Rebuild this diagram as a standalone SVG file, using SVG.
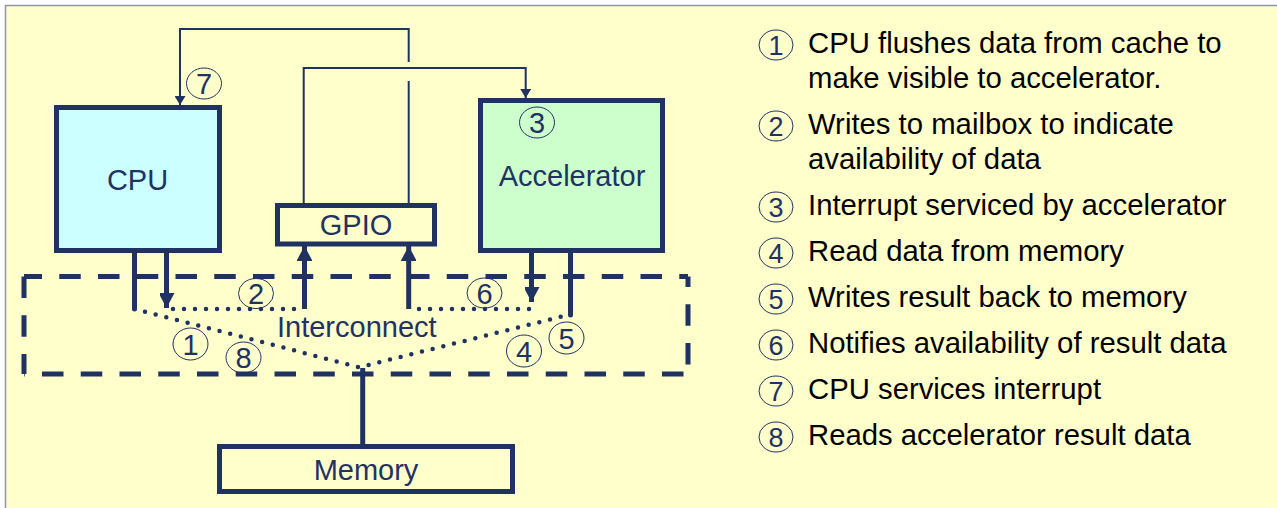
<svg xmlns="http://www.w3.org/2000/svg" width="1277" height="508" viewBox="0 0 1277 508">
  <defs>
    <style>
      .box { stroke: #1F3262; stroke-width: 5; }
      .lbl { font-family: "Liberation Sans", Arial, sans-serif; font-size: 29px; fill: #1F3262; text-anchor: middle; }
      .bus { stroke: #1F3262; stroke-width: 5; fill: none; }
      .wire { stroke: #1F3262; stroke-width: 2; fill: none; }
      .dots { stroke: #1F3262; stroke-width: 4.5; fill: none; stroke-dasharray: 0 11; stroke-linecap: round; }
      .dash { stroke: #1F3262; stroke-width: 5; fill: none; stroke-dasharray: 21.5 17.25; }
      .step { fill: none; stroke: #1F3262; stroke-width: 1; }
      .stepnum { font-family: "Liberation Sans", Arial, sans-serif; font-size: 29px; fill: #1F3262; text-anchor: middle; }
      .legnum { font-family: "Liberation Sans", Arial, sans-serif; font-size: 27px; fill: #1F3262; text-anchor: middle; }
      .leg { font-family: "Liberation Sans", Arial, sans-serif; font-size: 29.3px; fill: #000000; }
    </style>
    <marker id="bigHead" markerUnits="userSpaceOnUse" markerWidth="17" markerHeight="15" refX="15" refY="8" orient="auto">
      <path d="M0,0 L15,8 L0,16 Z" fill="#1F3262"/>
    </marker>
    <marker id="smallHead" markerUnits="userSpaceOnUse" markerWidth="10" markerHeight="11" refX="9" refY="5.5" orient="auto">
      <path d="M0,0 L9,5.5 L0,11 Z" fill="#1F3262"/>
    </marker>
  </defs>

  <!-- slide background -->
  <rect x="5.5" y="5.5" width="1290" height="520" fill="#FFFFCC" stroke="#8E95A8" stroke-width="1.5"/>

  <!-- interconnect region (dashed outline, one path per side) -->
  <g id="interconnect">
    <path class="dash" d="M24,276.5 H688" stroke-dashoffset="3.5"/>
    <path class="dash" d="M688,276.5 V374" stroke-dashoffset="11"/>
    <path class="dash" d="M24,374 H688" stroke-dashoffset="20.75"/>
    <path class="dash" d="M24,276.5 V374"/>
    <text class="lbl" x="277" y="337" style="text-anchor:start">Interconnect</text>
  </g>

  <g id="cpu">
    <rect class="box" x="56.5" y="107.5" width="163" height="143" fill="#CCFFFF"/>
    <text class="lbl" x="137.5" y="190">CPU</text>
  </g>

  <g id="accelerator">
    <rect class="box" x="480.5" y="100.5" width="182" height="150" fill="#CCFFCC"/>
    <text class="lbl" x="572" y="186">Accelerator</text>
  </g>

  <g id="gpio">
    <rect class="box" x="277.5" y="205.5" width="157" height="38.5" fill="#FFFFCC"/>
    <text class="lbl" x="356" y="235">GPIO</text>
  </g>

  <g id="memory">
    <rect class="box" x="219.5" y="446.5" width="293" height="45" fill="#FFFFCC"/>
    <text class="lbl" x="366" y="480">Memory</text>
  </g>

  <g id="connectors">
    <!-- interrupt lines from GPIO -->
    <path class="wire" d="M408.7,203 V81"/>
    <path class="wire" d="M408.7,62 V29 H180 V105" marker-end="url(#smallHead)"/>
    <path class="wire" d="M303.7,203 V68 H525.7 V98" marker-end="url(#smallHead)"/>

    <!-- bus taps -->
    <path class="bus" d="M134.5,253 V309" stroke-linecap="round"/>
    <path class="bus" d="M166.5,253 V308" marker-end="url(#bigHead)"/>
    <path class="bus" d="M304.5,309 V246" marker-end="url(#bigHead)"/>
    <path class="bus" d="M408.7,309 V246" marker-end="url(#bigHead)"/>
    <path class="bus" d="M531.5,253 V302" marker-end="url(#bigHead)"/>
    <path class="bus" d="M570.5,253 V315" stroke-linecap="round"/>
    <path class="bus" d="M362.7,368 V444"/>

    <!-- transfer paths through the interconnect -->
    <path class="dots" d="M173,309 H296"/>
    <path class="dots" d="M419,309 H531"/>
    <path class="dots" d="M145,311.7 L359.3,367.3 L565,315.7"/>
  </g>

  <!-- step markers on the diagram -->
  <g id="steps">
    <ellipse class="step" cx="204" cy="83.5" rx="17.5" ry="15.5"/>
    <text class="stepnum" x="204" y="94">7</text>
    <ellipse class="step" cx="537" cy="122.5" rx="17.5" ry="15.5"/>
    <text class="stepnum" x="537" y="133">3</text>
    <ellipse class="step" cx="256" cy="293.5" rx="17.5" ry="15"/>
    <text class="stepnum" x="256" y="304">2</text>
    <ellipse class="step" cx="484.5" cy="293" rx="17.5" ry="15"/>
    <text class="stepnum" x="484.5" y="303.5">6</text>
    <ellipse class="step" cx="190.5" cy="344" rx="17.5" ry="16"/>
    <text class="stepnum" x="190.5" y="354.5">1</text>
    <ellipse class="step" cx="243.5" cy="357.5" rx="17.5" ry="15.5"/>
    <text class="stepnum" x="243.5" y="368">8</text>
    <ellipse class="step" cx="524" cy="351" rx="17.5" ry="16"/>
    <text class="stepnum" x="524" y="361.5">4</text>
    <ellipse class="step" cx="566.5" cy="338" rx="17.5" ry="16"/>
    <text class="stepnum" x="566.5" y="348.5">5</text>
  </g>

  <!-- legend -->
  <g id="legend">
    <ellipse class="step" cx="776" cy="45" rx="17" ry="15"/>
    <text class="legnum" x="776" y="54.5">1</text>
    <text class="leg" x="808" y="53">CPU flushes data from cache to</text>
    <text class="leg" x="808" y="88">make visible to accelerator.</text>

    <ellipse class="step" cx="776" cy="126" rx="17" ry="15"/>
    <text class="legnum" x="776" y="135.5">2</text>
    <text class="leg" x="808" y="134">Writes to mailbox to indicate</text>
    <text class="leg" x="808" y="169">availability of data</text>

    <ellipse class="step" cx="776" cy="207" rx="17" ry="15"/>
    <text class="legnum" x="776" y="216.5">3</text>
    <text class="leg" x="808" y="215">Interrupt serviced by accelerator</text>

    <ellipse class="step" cx="776" cy="253" rx="17" ry="15"/>
    <text class="legnum" x="776" y="262.5">4</text>
    <text class="leg" x="808" y="261">Read data from memory</text>

    <ellipse class="step" cx="776" cy="299" rx="17" ry="15"/>
    <text class="legnum" x="776" y="308.5">5</text>
    <text class="leg" x="808" y="307">Writes result back to memory</text>

    <ellipse class="step" cx="776" cy="345" rx="17" ry="15"/>
    <text class="legnum" x="776" y="354.5">6</text>
    <text class="leg" x="808" y="353">Notifies availability of result data</text>

    <ellipse class="step" cx="776" cy="391" rx="17" ry="15"/>
    <text class="legnum" x="776" y="400.5">7</text>
    <text class="leg" x="808" y="399">CPU services interrupt</text>

    <ellipse class="step" cx="776" cy="437" rx="17" ry="15"/>
    <text class="legnum" x="776" y="446.5">8</text>
    <text class="leg" x="808" y="445">Reads accelerator result data</text>
  </g>
</svg>
